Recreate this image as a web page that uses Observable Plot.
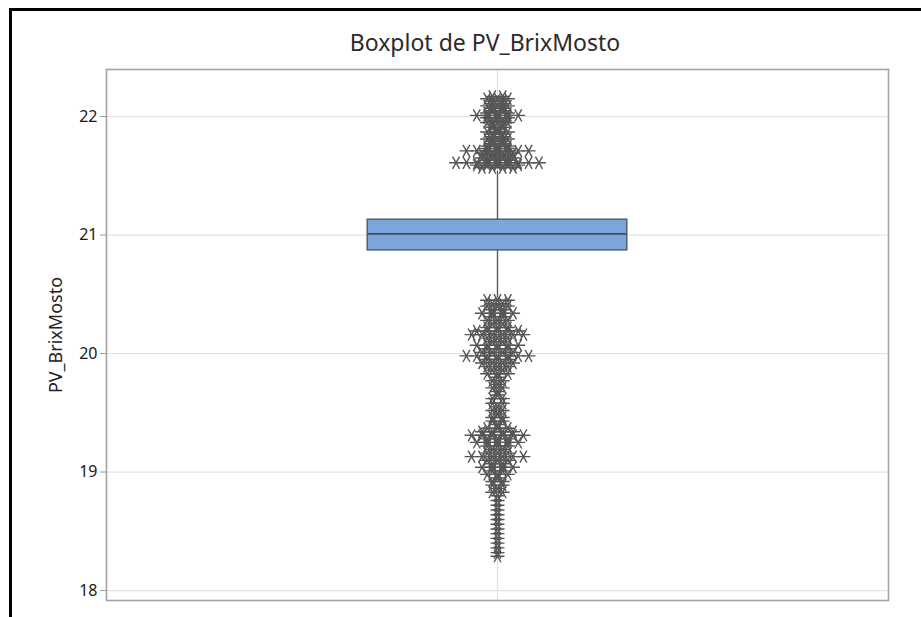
<!DOCTYPE html>
<html>
<head>
<meta charset="utf-8">
<script src="https://cdn.jsdelivr.net/npm/d3@7"></script>
<script src="https://cdn.jsdelivr.net/npm/@observablehq/plot@0.6"></script>
<style>
  body { margin: 0; background: #fff; }
  #wrap { position: relative; width: 921px; height: 617px; overflow: hidden; background: #fff; }
  #title { position: absolute; top: 26px; left: 0; width: 970px; text-align: center;
           font-family: "Noto Sans", sans-serif; font-size: 23px; color: #2b2b2b; }
  #chart { position: absolute; top: 60px; left: 0; }
  #border { position: absolute; left: 9px; top: 8px; width: 930px; height: 630px;
            border-left: 3px solid #000; border-top: 3px solid #000; pointer-events: none; }
</style>
</head>
<body>
<div id="wrap">
  <div id="title">Boxplot de PV_BrixMosto</div>
  <div id="chart"></div>
  <div id="border"></div>
</div>
<script>
// ---- data ----
const variableName = "PV_BrixMosto";
const yTicks = [18, 19, 20, 21, 22];
const q1 = 20.87;
const median = 21.01;
const q3 = 21.13;
const whiskerLow = 20.47;
const whiskerHigh = 21.54;

const upperValues = [22.17, 22.15, 22.13, 22.11, 22.09, 22.07, 22.05, 22.03, 22.01, 21.99, 21.97, 21.95, 21.93, 21.91, 21.89, 21.87, 21.85, 21.83, 21.81, 21.79, 21.77, 21.75, 21.73, 21.71, 21.69, 21.67, 21.65, 21.63, 21.61, 21.59, 21.57];
const upperCounts = [2, 3, 2, 2, 3, 2, 2, 3, 5, 3, 2, 3, 2, 2, 1, 3, 2, 2, 3, 2, 2, 3, 3, 7, 4, 3, 4, 3, 9, 5, 4];

const lowerValues = [20.45, 20.42, 20.40, 20.37, 20.34, 20.31, 20.28, 20.25, 20.22, 20.19, 20.16, 20.13, 20.10, 20.07, 20.04, 20.01, 19.98, 19.95, 19.92, 19.89, 19.86, 19.83, 19.80, 19.77, 19.74, 19.71, 19.68, 19.65, 19.62, 19.58, 19.55, 19.52, 19.49, 19.46, 19.43, 19.40, 19.37, 19.34, 19.31, 19.28, 19.25, 19.22, 19.19, 19.16, 19.13, 19.10, 19.07, 19.04, 19.01, 18.98, 18.95, 18.92, 18.89, 18.86, 18.83, 18.80, 18.76, 18.72, 18.68, 18.64, 18.60, 18.56, 18.52, 18.48, 18.44, 18.40, 18.36, 18.32, 18.29];
const lowerCounts = [3, 2, 3, 2, 4, 2, 3, 2, 3, 5, 6, 3, 2, 5, 3, 4, 7, 3, 4, 3, 2, 3, 1, 2, 1, 2, 1, 1, 2, 2, 1, 2, 1, 2, 2, 1, 3, 4, 6, 3, 5, 3, 2, 3, 6, 3, 2, 4, 2, 3, 1, 2, 2, 1, 2, 1, 1, 1, 1, 1, 1, 1, 1, 1, 1, 1, 1, 1, 1];

// ---- layout / style ----
const boxHalf = 0.332;     // half box width in x units (frame spans -1..1)
const dupSpacing = 0.0265; // side-by-side spacing of duplicate outliers

// expand duplicates side by side (as Minitab does)
function expand(values, counts) {
  const out = [];
  values.forEach((v, i) => {
    const n = counts[i];
    for (let k = 0; k < n; k++) out.push({x: (k - (n - 1) / 2) * dupSpacing, y: v});
  });
  return out;
}
const outliers = expand(upperValues, upperCounts).concat(expand(lowerValues, lowerCounts));

const star = {
  draw(ctx, size) {
    const r = Math.sqrt(size / Math.PI);
    for (const a of [0, Math.PI / 3, 2 * Math.PI / 3]) {
      const c = Math.cos(a) * r, s = Math.sin(a) * r;
      ctx.moveTo(c, s); ctx.lineTo(-c, -s);
    }
  }
};

const chart = Plot.plot({
  width: 921,
  height: 557,
  marginLeft: 106,
  marginRight: 33,
  marginTop: 9,
  marginBottom: 17,
  style: {background: "transparent", fontFamily: "Noto Sans, sans-serif", fontSize: "16px"},
  x: {domain: [-1, 1], axis: null},
  y: {domain: [17.916, 22.397], axis: null},
  marks: [
    Plot.ruleY(yTicks, {stroke: "#e3e3e3", strokeWidth: 1.3}),
    Plot.ruleX([0], {stroke: "#e3e3e3", strokeWidth: 1.3}),
    Plot.ruleX([0], {y1: q3, y2: whiskerHigh, stroke: "#555", strokeWidth: 1.3}),
    Plot.ruleX([0], {y1: whiskerLow, y2: q1, stroke: "#555", strokeWidth: 1.3}),
    Plot.rect([0], {x1: -boxHalf, x2: boxHalf, y1: q1, y2: q3, fill: "#7ca6da", stroke: "#46525e", strokeWidth: 1.3}),
    Plot.ruleY([median], {x1: -boxHalf, x2: boxHalf, stroke: "#3f4d5b", strokeWidth: 1.6}),
    Plot.dot(outliers, {x: "x", y: "y", symbol: star, r: 7, fill: "none", stroke: "#555", strokeWidth: 1.4}),
    Plot.frame({stroke: "#a3a3a3", strokeWidth: 1.6}),
    Plot.axisY({ticks: yTicks, tickFormat: d => String(d), tickSize: 6, tickPadding: 3, stroke: "#999", fill: "#1a1a1a", fontSize: 16,
                label: null}),
    Plot.text([variableName], {frameAnchor: "left", textAnchor: "middle", rotate: -90, dx: -50, fill: "#222", fontSize: 18})
  ]
});
document.getElementById("chart").appendChild(chart);
</script>
</body>
</html>
